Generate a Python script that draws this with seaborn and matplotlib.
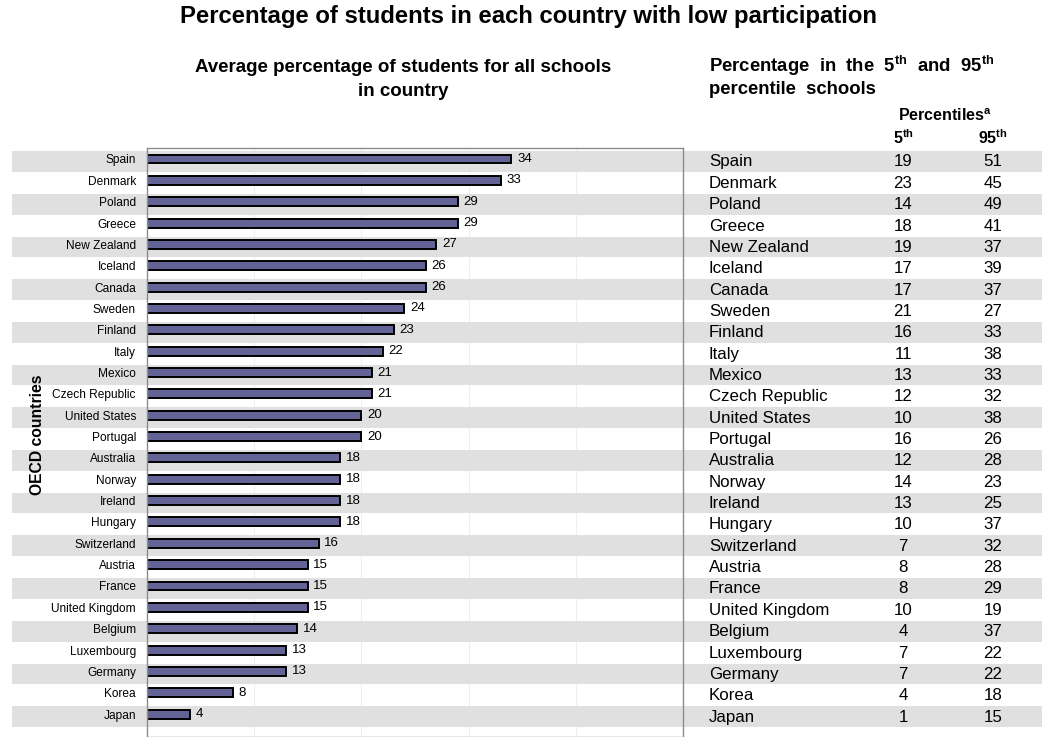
import matplotlib
matplotlib.use("Agg")
import matplotlib.pyplot as plt
import matplotlib.transforms as mtransforms
import numpy as np
import pandas as pd
import seaborn as sns

countries = [
    "Spain", "Denmark", "Poland", "Greece", "New Zealand", "Iceland", "Canada",
    "Sweden", "Finland", "Italy", "Mexico", "Czech Republic", "United States",
    "Portugal", "Australia", "Norway", "Ireland", "Hungary", "Switzerland",
    "Austria", "France", "United Kingdom", "Belgium", "Luxembourg", "Germany",
    "Korea", "Japan",
]
average = [34, 33, 29, 29, 27, 26, 26, 24, 23, 22, 21, 21, 20, 20, 18, 18, 18,
           18, 16, 15, 15, 15, 14, 13, 13, 8, 4]
pct5 = [19, 23, 14, 18, 19, 17, 17, 21, 16, 11, 13, 12, 10, 16, 12, 14, 13, 10,
        7, 8, 8, 10, 4, 7, 7, 4, 1]
pct95 = [51, 45, 49, 41, 37, 39, 37, 27, 33, 38, 33, 32, 38, 26, 28, 23, 25, 37,
         32, 28, 29, 19, 37, 22, 22, 18, 15]

df = pd.DataFrame({"country": countries, "average": average})

sns.set_theme(style="white")
plt.rcParams["font.family"] = ["Liberation Sans", "DejaVu Sans"]
plt.rcParams["text.color"] = "black"
plt.rcParams["ytick.color"] = "black"
plt.rcParams["mathtext.fontset"] = "custom"
plt.rcParams["mathtext.rm"] = "Liberation Sans"
plt.rcParams["mathtext.bf"] = "Liberation Sans:bold"

W, H = 1052, 737
fig = plt.figure(figsize=(W / 100, H / 100), dpi=100)

n = len(countries)
row_px = 21.35
top_px = 148
first_px = 159
ylim = ((H - first_px) / row_px, -(first_px - top_px) / row_px)
ax_h = (H - top_px) / H
band_lo, band_hi = -0.37, 0.6

# background strip for the alternating grey rows and the table on the right
bg = fig.add_axes([12 / W, 0, (1042 - 12) / W, ax_h], zorder=0)
bg.set_xlim(0, 1)
bg.set_ylim(*ylim)
bg.axis("off")
for i in range(0, n, 2):
    bg.axhspan(i + band_lo, i + band_hi, color="#e0e0e0", lw=0)

ax = fig.add_axes([147 / W, 0, (683 - 147) / W, ax_h], zorder=2)
ax.patch.set_alpha(0)
sns.barplot(data=df, x="average", y="country", orient="h", color="#636396",
            saturation=1, width=0.42, edgecolor="black", linewidth=1.4, ax=ax,
            zorder=3)
# bands repeated inside the plot so the grid only shows on white rows
for i in range(0, n, 2):
    ax.axhspan(i + band_lo, i + band_hi, color="#e0e0e0", lw=0, zorder=0.8)
ax.bar_label(ax.containers[0], padding=4, fontsize=9.5)
ax.set_xlim(0, 50)
ax.set_ylim(*ylim)
ax.set_xticks([10, 20, 30, 40])
ax.set_xticklabels([])
ax.xaxis.grid(True, color="#eeeeee", lw=0.8)
ax.set_axisbelow(True)
ax.tick_params(axis="y", length=0, pad=8, labelsize=8.6)
ax.tick_params(axis="x", length=0)
ax.set_xlabel("")
ax.set_ylabel("")
for s in ax.spines.values():
    s.set_color("#8c8c8c")
    s.set_linewidth(1)
    s.set_zorder(4)

fig.text(38 / W, 1 - 435 / H, "OECD countries", rotation=90, ha="center",
         va="center", fontsize=11.3, fontweight="bold")

# titles
fig.text(528 / W, 1 - 17 / H,
         "Percentage of students in each country with low participation",
         ha="center", va="center", fontsize=17.2, fontweight="bold")
fig.text(403 / W, 1 - 68 / H, "Average percentage of students for all schools",
         ha="center", va="center", fontsize=13.5, fontweight="bold")
fig.text(403 / W, 1 - 92 / H, "in country", ha="center", va="center",
         fontsize=13.5, fontweight="bold")
fig.text(709 / W, 1 - 66 / H,
         r"Percentage  in  the  5$^{\mathbf{th}}$  and  95$^{\mathbf{th}}$",
         ha="left", va="center", fontsize=13.3, fontweight="bold")
fig.text(709 / W, 1 - 90 / H, "percentile  schools", ha="left", va="center",
         fontsize=13.3, fontweight="bold")
fig.text(945 / W, 1 - 116 / H, r"Percentiles$^{\mathbf{a}}$", ha="center",
         va="center", fontsize=11.5, fontweight="bold")
fig.text(903 / W, 1 - 138 / H, r"5$^{\mathbf{th}}$", ha="center", va="center",
         fontsize=11.5, fontweight="bold")
fig.text(993 / W, 1 - 138 / H, r"95$^{\mathbf{th}}$", ha="center", va="center",
         fontsize=11.5, fontweight="bold")

# table of 5th / 95th percentile schools
trans = mtransforms.blended_transform_factory(fig.transFigure, bg.transData)
for i, (c, a, b) in enumerate(zip(countries, pct5, pct95)):
    y = i + 0.14
    bg.text(709 / W, y, c, transform=trans, ha="left", va="center", fontsize=12.2)
    bg.text(903 / W, y, str(a), transform=trans, ha="center", va="center",
            fontsize=12.2)
    bg.text(993 / W, y, str(b), transform=trans, ha="center", va="center",
            fontsize=12.2)

fig.savefig("out.png", dpi=100)
